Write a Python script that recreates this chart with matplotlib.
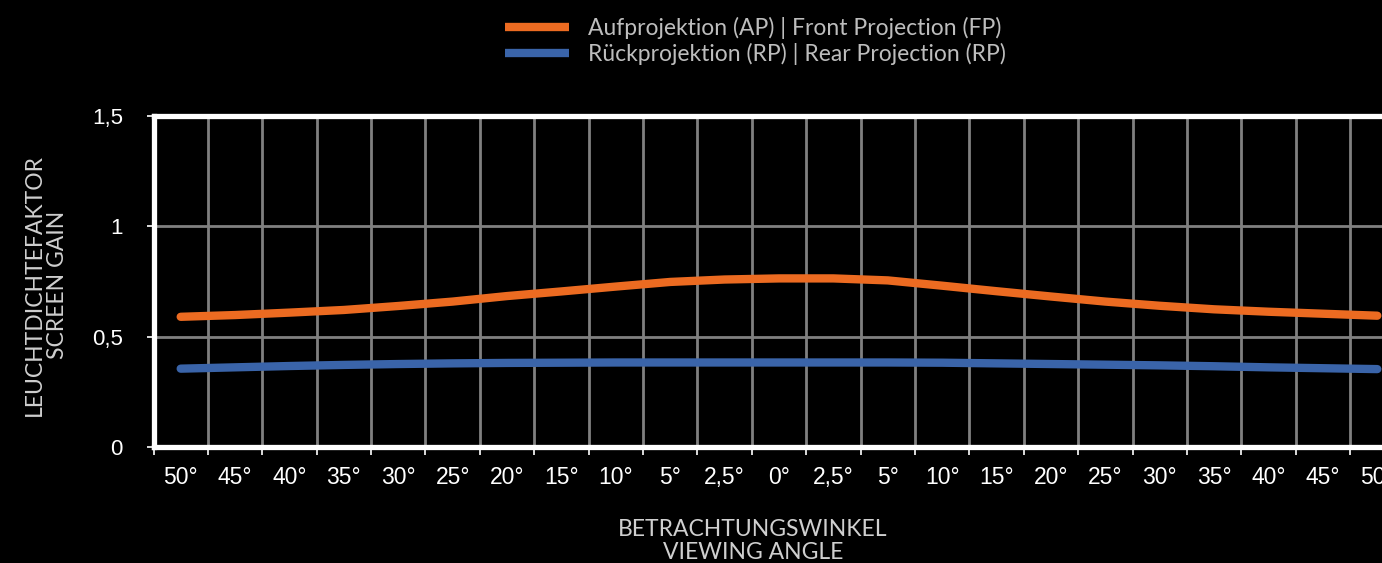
import numpy as np
import matplotlib.pyplot as plt
from matplotlib.lines import Line2D

# Kategorien (Betrachtungswinkel) und Messwerte
winkel = ["50°", "45°", "40°", "35°", "30°", "25°", "20°", "15°", "10°", "5°", "2,5°", "0°",
          "2,5°", "5°", "10°", "15°", "20°", "25°", "30°", "35°", "40°", "45°", "50°"]
gain_ap = [0.590, 0.598, 0.609, 0.621, 0.639, 0.659, 0.684, 0.705, 0.727, 0.748, 0.759, 0.764,
           0.764, 0.755, 0.731, 0.706, 0.682, 0.659, 0.640, 0.624, 0.613, 0.604, 0.595]
gain_rp = [0.355, 0.361, 0.367, 0.372, 0.376, 0.379, 0.381, 0.382, 0.383, 0.383, 0.383, 0.383,
           0.383, 0.383, 0.382, 0.379, 0.376, 0.373, 0.370, 0.366, 0.361, 0.357, 0.353]
y_ticks = [0, 0.5, 1, 1.5]
y_labels = ["0", "0,5", "1", "1,5"]

orange = "#EC6B21"
blau = "#3A64A9"
grau = "#808080"
textgrau = "#BDBDBD"
titelgrau = "#CFCFCF"

fig = plt.figure(figsize=(13.82, 5.63), dpi=100, facecolor="black")
ax = fig.add_axes([153.5 / 1382, 116 / 563, 1251 / 1382, 331 / 563], facecolor="black")

x = np.arange(len(winkel))
ax.plot(x, gain_ap, color=orange, lw=6.0, solid_capstyle="round", solid_joinstyle="round", zorder=3)
ax.plot(x, gain_rp, color=blau, lw=6.0, solid_capstyle="round", solid_joinstyle="round", zorder=3)

ax.set_xlim(-0.5, len(winkel) - 0.5)
ax.set_ylim(0, 1.5)

# Gitterlinien an den Kategoriegrenzen
ax.set_xticks(np.arange(-0.5, len(winkel), 1.0))
ax.set_xticklabels([])
ax.set_xticks(x, minor=True)
ax.set_xticklabels(winkel, minor=True, fontsize=16.5, color="white", family="Liberation Sans")
ax.tick_params(axis="x", which="major", length=6, width=1.2, color="white", direction="out")
ax.tick_params(axis="x", which="minor", length=0, pad=14)
ax.set_yticks(y_ticks)
ax.set_yticklabels(y_labels, fontsize=16, color="white", family="Liberation Sans")
ax.tick_params(axis="y", length=5, width=1.2, color="white", pad=17)

ax.grid(True, axis="x", which="major", color=grau, lw=2.0, zorder=1)
ax.grid(True, axis="y", which="major", color=grau, lw=2.0, zorder=1)

for s in ["top", "bottom", "left"]:
    ax.spines[s].set_color("white")
    ax.spines[s].set_linewidth(3.8)
    ax.spines[s].set_zorder(4)
ax.spines["right"].set_visible(False)

# Achsentitel
fig.text(46 / 1382, 1 - 285 / 563, "LEUCHTDICHTEFAKTOR\nSCREEN GAIN", rotation=90,
         ha="center", va="center", fontsize=16.5, color=titelgrau, family="Lato",
         weight="normal", linespacing=1.12)
fig.text(753 / 1382, 1 - 541 / 563, "BETRACHTUNGSWINKEL\nVIEWING ANGLE",
         ha="center", va="center", fontsize=16.5, color=titelgrau, family="Lato",
         weight="normal", linespacing=1.12)

# Legende
handles = [Line2D([], [], color=orange, lw=6.0, solid_capstyle="butt"),
           Line2D([], [], color=blau, lw=6.0, solid_capstyle="butt")]
labels = ["Aufprojektion (AP) | Front Projection (FP)", "Rückprojektion (RP) | Rear Projection (RP)"]
leg = fig.legend(handles, labels, loc="center left", bbox_to_anchor=(505 / 1382, 1 - 41 / 563),
                 frameon=False, handlelength=2.8, handletextpad=0.8, borderpad=0,
                 borderaxespad=0, labelspacing=0.2,
                 prop={"family": "Lato", "weight": "normal", "size": 16.5})
for t in leg.get_texts():
    t.set_color(textgrau)

fig.savefig("out.png", dpi=100, facecolor="black")
